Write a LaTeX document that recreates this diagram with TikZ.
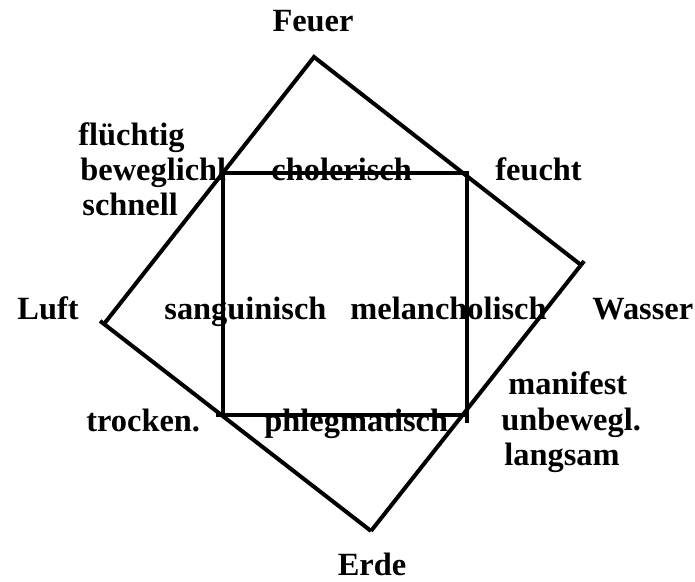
\documentclass[tikz,border=0pt]{standalone}
\usepackage{fontspec}
\setmainfont{Liberation Serif}
\begin{document}
\begin{tikzpicture}[x=0.5pt,y=-0.5pt,
  lbl/.style={anchor=base west,inner sep=0pt,font=\bfseries\fontsize{16.2pt}{19pt}\selectfont},
  lblc/.style={anchor=base,inner sep=0pt,font=\bfseries\fontsize{16.2pt}{19pt}\selectfont},
  edge/.style={line width=2pt,line join=miter}]
\useasboundingbox (0,0) rectangle (695,582);
% rotated rectangle vertices
\coordinate (F) at (314,57);
\coordinate (W) at (581,265);
\coordinate (E) at (371,531);
\coordinate (L) at (104,324);
% square corners
\coordinate (A) at (223,173);
\coordinate (B) at (467,173);
\coordinate (C) at (467,415);
\coordinate (D) at (223,415);
\coordinate (Dx) at (216,415);
\coordinate (Cx) at (467,423);
% outer rectangle
\draw[edge] (L) -- (F) -- (W);
\draw[edge,shorten <=-2.5pt] (W) -- (E);
\draw[edge,shorten >=-2.5pt] (E) -- (L);
% inner square
\draw[edge] (Cx) -- (B) -- (A) -- (D);
\draw[edge] (Dx) -- (C);
% labels
\node[lblc] (feuer) at (313,32) {Feuer};
\node[lblc] (erde) at (372,575) {Erde};
\node[lbl] (luft) at (17,320) {Luft};
\node[lbl] (wasser) at (592,320) {Wasser};
\node[lbl] (sang) at (164,320) {sanguinisch};
\node[lbl] (mel) at (350,320) {melancholisch};
\node[lbl] (chol) at (271,181) {cholerisch};
\node[lbl] (phleg) at (264,431) {phlegmatisch};
\node[lbl] (fl1) at (78,146) {flüchtig};
\node[lbl] (fl2) at (80,181) {beweglichl};
\node[lbl] (fl3) at (82,216) {schnell};
\node[lbl] (feucht) at (495,181) {feucht};
\node[lbl] (trocken) at (86,431) {trocken.};
\node[lbl] (m1) at (508,394) {manifest};
\node[lbl] (m2) at (501,430) {unbewegl.};
\node[lbl] (m3) at (504,465) {langsam};
\end{tikzpicture}
\end{document}
